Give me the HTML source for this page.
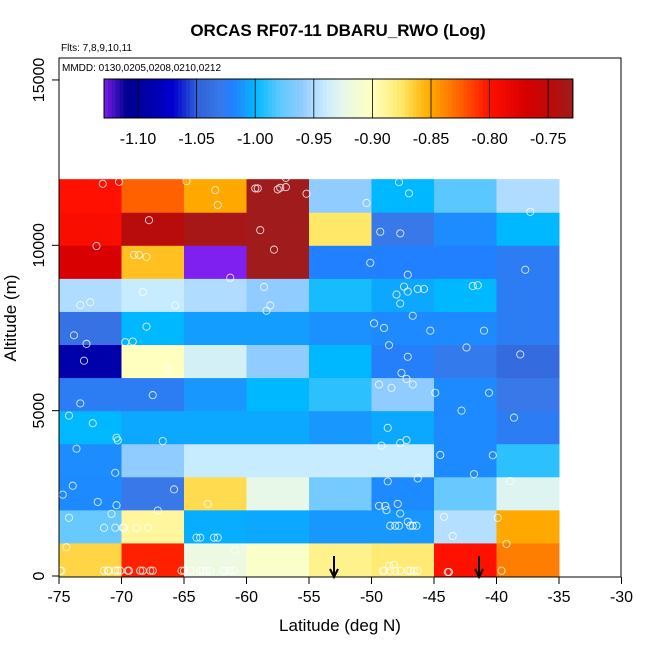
<!DOCTYPE html>
<html><head><meta charset="utf-8"><style>
html,body{margin:0;padding:0;background:#fff;}
svg{display:block;font-family:"Liberation Sans",sans-serif;}
</style></head><body>
<svg id="chart" width="650" height="650" viewBox="0 0 650 650" xmlns="http://www.w3.org/2000/svg">
<rect x="0" y="0" width="650" height="650" fill="#fff"/>
<text x="338" y="36" text-anchor="middle" font-size="17" font-weight="bold">ORCAS RF07-11 DBARU_RWO (Log)</text>
<text x="61" y="51" font-size="10">Flts: 7,8,9,10,11</text>
<g id="cells"></g>
<g id="points"></g>
<g id="arrows"></g>
<rect x="59" y="58" width="562" height="519" fill="none" stroke="#000" stroke-width="1"/>
<text x="62" y="71" font-size="10">MMDD: 0130,0205,0208,0210,0212</text>
<g id="cbar"></g>
<g id="xaxis"></g>
<g id="yaxis"></g>
<text x="340" y="631" text-anchor="middle" font-size="17">Latitude (deg N)</text>
<text x="0" y="0" transform="translate(16,318) rotate(-90)" text-anchor="middle" font-size="17">Altitude (m)</text>
</svg>
<script>
// ---- data ----
const latBins = [-75,-70,-65,-60,-55,-50,-45,-40,-35];
const altBins = [0,1000,2000,3000,4000,5000,6000,7000,8000,9000,10000,11000,12000];
// rows from bottom (0-1000 m) to top (11000-12000 m), columns -75..-35
const cellValues = [
 [-0.868,-0.805,-0.92,-0.905,-0.885,-0.878,-0.80,-0.835],
 [-0.975,-0.89,-1.003,-1.005,-1.01,-1.01,-0.948,-0.85],
 [-1.016,-1.03,-0.87,-0.925,-0.97,-1.016,-0.975,-0.93],
 [-1.015,-0.96,-0.94,-0.94,-0.94,-0.94,-1.016,-0.99],
 [-1.0,-1.005,-1.005,-1.005,-1.01,-1.005,-1.016,-1.025],
 [-1.025,-1.025,-1.01,-1.0,-0.99,-0.96,-1.016,-1.03],
 [-1.09,-0.90,-0.935,-0.96,-1.0,-1.022,-1.028,-1.04],
 [-1.035,-1.0,-1.008,-1.008,-1.013,-1.016,-1.016,-1.025],
 [-0.95,-0.94,-0.95,-0.96,-0.995,-1.005,-1.0,-1.025],
 [-0.77,-0.86,-1.13,-0.73,-1.02,-1.02,-1.02,-1.025],
 [-0.795,-0.745,-0.735,-0.73,-0.875,-1.03,-1.015,-1.0],
 [-0.80,-0.825,-0.85,-0.73,-0.96,-1.0,-0.98,-0.95]
];
const pointLat = [-71.5,-70.2,-64.8,-62.5,-62.3,-59.3,-59.1,-57.5,-57.3,-56.85,-56.85,-55.2,-50.4,-47.8,-47.0,-37.3,
 -67.8,-72.0,-58.9,-57.8,-49.3,-47.7,
 -69.0,-68.6,-68.0,-61.3,-50.1,-47.1,-37.7,
 -73.3,-72.5,-68.3,-65.7,-58.6,-58.1,-58.4,-47.4,-47.1,-48.0,-47.7,-46.3,-45.8,-41.9,-41.5,
 -73.8,-72.8,-68.0,-69.7,-69.1,-49.8,-49.0,-46.7,-45.3,-41.0,-48.6,
 -73.0,-66.3,-47.1,-42.4,-38.1,
 -47.6,-47.2,-46.7,-49.4,-48.4,-73.3,-67.5,-44.9,-40.6,-42.8,
 -74.2,-72.3,-70.4,-70.3,-66.7,-48.7,-47.7,-47.2,-49.2,-38.6,
 -73.6,-70.5,-44.5,-40.3,-41.8,
 -73.9,-74.7,-71.9,-70.4,-65.8,-63.1,-48.7,-46.3,-49.4,-48.9,-48.8,-47.9,-47.7,-38.9,
 -74.2,-70.8,-71.4,-70.5,-69.9,-69.8,-68.8,-67.9,-67.1,-64.0,-63.7,-62.6,-62.3,
 -47.1,-48.5,-48.1,-47.8,-46.9,-46.7,-46.4,-44.2,-43.5,-39.9,
 -74.4,-60.9,-39.2,-48.2,-48.6,
 -74.9,-74.8,-71.4,-71.1,-71.0,-70.5,-70.3,-70.1,-69.5,-69.4,-68.5,-68.3,-67.7,-67.5,-65.2,-65.0,-64.5,-63.7,-63.5,-63.2,-62.9,-61.9,-61.7,-61.3,-61.0,
 -49.1,-49.0,-48.5,-48.1,-47.7,-47.1,-46.9,-46.6,-46.3,-43.9,-43.8,-39.6];
const pointAlt = [11860,11920,11940,11670,11220,11720,11720,11690,11740,11760,12040,11560,11280,11910,11570,11010,
 10760,9980,10460,9870,10410,10360,
 9710,9710,9650,9020,9470,9110,9260,
 8190,8280,8590,8180,8740,8180,8020,8750,8600,8510,8240,8680,8680,8770,8790,
 7280,7020,7540,7070,7090,7640,7500,7870,7420,7420,6980,
 6510,6260,6630,6910,6700,
 6140,5960,5790,5790,5690,5220,5470,5540,5540,5000,
 4850,4620,4180,4100,4080,4480,4020,4110,3940,4790,
 3850,3120,3660,3650,3080,
 2730,2460,2240,2140,2620,2180,2860,2950,2120,2120,1990,2180,1890,2870,
 1760,1880,1460,1460,1460,1460,1460,1460,1980,1160,1160,1160,1160,
 1640,1520,1520,1520,1520,1520,1520,1790,1210,1760,
 870,770,970,340,310,
 160,160,160,160,160,160,160,160,160,160,160,160,160,160,160,160,160,160,160,160,160,160,160,160,160,
 160,160,160,160,160,160,160,160,160,120,120,160];
const arrowLat = [-53.0,-41.4];
const cbTicks = [-1.10,-1.05,-1.00,-0.95,-0.90,-0.85,-0.80,-0.75];
const xTicks = [-75,-70,-65,-60,-55,-50,-45,-40,-35,-30];
const yTicks = [0,5000,10000,15000];

// ---- scales ----
const X = v => 59 + (v + 75) * 12.5;
const Y = v => 576 - v * 0.03307;
const CB = v => 138 + (v + 1.10) * 1172;
const stops = [[-1.13,'#8020f0'],[-1.11,'#000090'],[-1.09,'#0000aa'],[-1.07,'#0000d0'],[-1.05,'#3060d8'],[-1.03,'#3878e8'],[-1.02,'#2080ff'],[-1.01,'#1898ff'],[-1.0,'#00b8ff'],[-0.98,'#5ac8ff'],[-0.96,'#90ccff'],[-0.95,'#b0dcff'],[-0.94,'#c8ecff'],[-0.925,'#e8f8e8'],[-0.90,'#ffffc0'],[-0.875,'#ffe868'],[-0.86,'#ffc020'],[-0.85,'#ffa800'],[-0.825,'#ff6000'],[-0.80,'#ff1000'],[-0.77,'#d80000'],[-0.745,'#b80c0c'],[-0.73,'#a01c1c']];
function hex(h){return [1,3,5].map(i=>parseInt(h.substr(i,2),16));}
function color(v){
  if(v<=stops[0][0]) return stops[0][1];
  for(let i=1;i<stops.length;i++){
    if(v<=stops[i][0]){
      const t=(v-stops[i-1][0])/(stops[i][0]-stops[i-1][0]);
      const a=hex(stops[i-1][1]),b=hex(stops[i][1]);
      return 'rgb('+a.map((c,k)=>Math.round(c+(b[k]-c)*t)).join(',')+')';
    }
  }
  return stops[stops.length-1][1];
}
const NS='http://www.w3.org/2000/svg';
function mk(tag,attrs,parent){const e=document.createElementNS(NS,tag);for(const k in attrs)e.setAttribute(k,attrs[k]);parent.appendChild(e);return e;}

// cells
const gC=document.getElementById('cells');
cellValues.forEach((row,r)=>row.forEach((v,c)=>{
  const x0=X(latBins[c]),x1=X(latBins[c+1]),y0=Y(altBins[r+1]),y1=Y(altBins[r]);
  const e=mk('rect',{x:x0,y:y0,width:x1-x0+0.5,height:y1-y0+0.5,fill:color(v)},gC);
  
  
}));
// points
const gP=document.getElementById('points');
pointLat.forEach((la,i)=>{
  const e=mk('circle',{cx:X(la),cy:Y(pointAlt[i]),r:3.6,fill:'none',stroke:'#fff','stroke-width':0.9,'stroke-opacity':0.85},gP);
  
  
});
// arrows
const gA=document.getElementById('arrows');
arrowLat.forEach(la=>{
  const x=X(la);
  const e=mk('path',{d:`M${x},556 L${x},576 M${x-4},569 L${x},577 L${x+4},569`,stroke:'#000','stroke-width':2,fill:'none'},gA);
  
  
});
// colorbar
const gB=document.getElementById('cbar');
const cbMin=-1.129,cbMax=-0.729,N=120;
for(let i=0;i<N;i++){
  const v0=cbMin+(cbMax-cbMin)*i/N,v1=cbMin+(cbMax-cbMin)*(i+1)/N;
  const e=mk('rect',{x:CB(v0),y:79,width:CB(v1)-CB(v0)+0.6,height:39,fill:color((v0+v1)/2)},gB);
  
  
}
const cbf=mk('rect',{x:CB(cbMin),y:79,width:CB(cbMax)-CB(cbMin),height:39,fill:'none',stroke:'#000','stroke-width':1},gB);


cbTicks.forEach(t=>{
  const l=mk('line',{x1:CB(t),x2:CB(t),y1:79,y2:118,stroke:'#000','stroke-width':0.8},gB);
  
  
  const tx=mk('text',{x:CB(t),y:144,'text-anchor':'middle','font-size':16},gB);
  tx.textContent=t.toFixed(2);
  
  
});
// x axis
const gX=document.getElementById('xaxis');
xTicks.forEach(t=>{
  const l=mk('line',{x1:X(t),x2:X(t),y1:577,y2:584,stroke:'#000'},gX);
  
  
  const tx=mk('text',{x:X(t),y:602,'text-anchor':'middle','font-size':16},gX);
  tx.textContent=String(t);
  
  
});
// y axis
const gY=document.getElementById('yaxis');
yTicks.forEach(t=>{
  const l=mk('line',{x1:52,x2:59,y1:Y(t),y2:Y(t),stroke:'#000'},gY);
  
  
  const tx=mk('text',{x:0,y:0,transform:`translate(44,${Y(t)}) rotate(-90)`,'text-anchor':'middle','font-size':16},gY);
  tx.textContent=String(t);
  
  
});
</script>
</body></html>
